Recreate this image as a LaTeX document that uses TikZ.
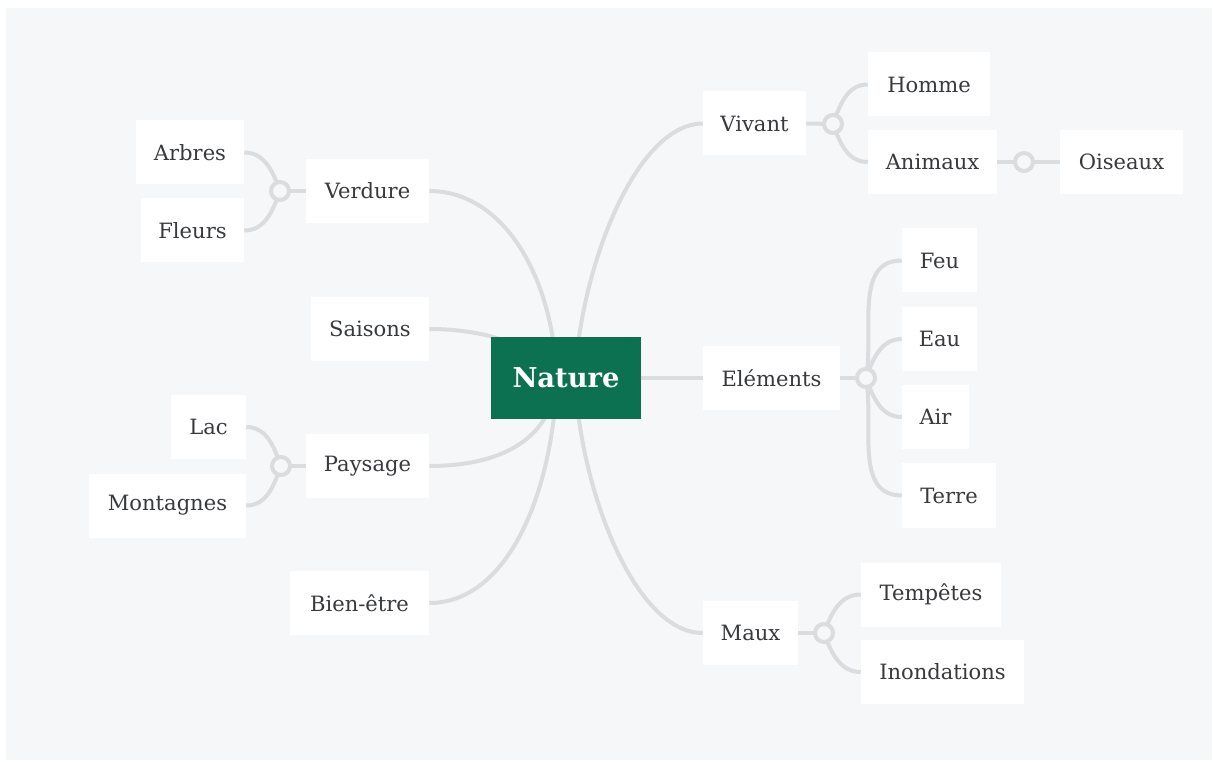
\documentclass[tikz,border=0pt]{standalone}
\usepackage{fontspec}
\setmainfont{DejaVu Serif}
\usetikzlibrary{backgrounds}
\definecolor{canvas}{RGB}{245,247,249}
\definecolor{wire}{RGB}{218,221,224}
\definecolor{ink}{RGB}{55,57,60}
\definecolor{forest}{RGB}{11,113,80}
\pgfdeclarelayer{paper}
\pgfsetlayers{paper,background,main}
\tikzset{
  bw/.style={minimum width=#1*0.75pt},
  leaf/.style={fill=white, text=ink, font=\fontsize{15.8pt}{18pt}\selectfont,
    minimum height=48pt, inner sep=0pt},
  root/.style={fill=forest, text=white, font=\fontsize{20.5pt}{24pt}\selectfont\bfseries,
    minimum width=112.5pt, minimum height=61.5pt, inner sep=0pt},
  link/.style={draw=wire, line width=3pt},
  hub/.style={circle, draw=wire, line width=3pt, fill=canvas, minimum size=13.5pt, inner sep=0pt}
}
\begin{document}
\begin{tikzpicture}[x=0.75pt, y=-0.75pt]
  % page and canvas
  \useasboundingbox (0,0) rectangle (1213,762);
  \begin{pgfonlayer}{paper}
    \fill[white] (0,0) rectangle (1213,762);
    \fill[canvas] (6,8) rectangle (1212,760);
  \end{pgfonlayer}

  % central topic
  \node[root] (nature) at (566,378) {Nature};

  % right-hand branches
  \node[leaf, bw=103] (vivant)   at (754.5,123.5) {Vivant};
  \node[leaf, bw=122] (homme)    at (929,84.5)    {Homme};
  \node[leaf, bw=129] (animaux)  at (932.5,162)   {Animaux};
  \node[leaf, bw=123] (oiseaux)  at (1121.5,162)  {Oiseaux};

  \node[leaf, bw=137] (elements) at (771.5,378)   {Eléments};
  \node[leaf, bw=75]  (feu)      at (939.5,260.5) {Feu};
  \node[leaf, bw=75]  (eau)      at (939.5,339)   {Eau};
  \node[leaf, bw=67]  (air)      at (935.5,417)   {Air};
  \node[leaf, bw=94]  (terre)    at (949,495.5)   {Terre};

  \node[leaf, bw=95]  (maux)     at (750.5,633)   {Maux};
  \node[leaf, bw=140] (tempetes) at (931,594.5)   {Tempêtes};
  \node[leaf, bw=163] (inond)    at (942.5,672)   {Inondations};

  % left-hand branches
  \node[leaf, bw=123] (verdure)  at (367.5,191)   {Verdure};
  \node[leaf, bw=108] (arbres)   at (190,152.5)   {Arbres};
  \node[leaf, bw=103] (fleurs)   at (192.5,230.5) {Fleurs};

  \node[leaf, bw=118] (saisons)  at (370,329)     {Saisons};

  \node[leaf, bw=123] (paysage)  at (367.5,466)   {Paysage};
  \node[leaf, bw=75]  (lac)      at (208.5,427)   {Lac};
  \node[leaf, bw=157] (montagnes) at (167.5,505.5) {Montagnes};

  \node[leaf, bw=139] (bienetre) at (359.5,603)   {Bien-être};

  % branch roots inside the central box
  \coordinate (nl) at (557,378);
  \coordinate (nr) at (575,378);

  % junction points
  \coordinate (jver) at (280,191);
  \coordinate (jpay) at (281,466);
  \coordinate (jviv) at (833,124);
  \coordinate (jani) at (1024,162);
  \coordinate (jele) at (866,378);
  \coordinate (jmau) at (824,633);

  % connectors, kept behind the boxes
  \begin{scope}[on background layer]
    \path[link] (verdure.east) .. controls (500,191) and (552,270) .. (nl);
    \path[link] (saisons.east) .. controls (470,329) and (530,338) .. (nl);
    \path[link] (paysage.east) .. controls (500,466) and (552,440) .. (nl);
    \path[link] (bienetre.east) .. controls (505,603) and (552,500) .. (nl);
    \path[link] (vivant.west) .. controls (635,124) and (580,270) .. (nr);
    \path[link] (maux.west) .. controls (635,633) and (580,490) .. (nr);
    \path[link] (nature.east) -- (elements.west);

    \path[link] (verdure.west) -- (jver);
    \path[link] (jver) to[out=110,in=0] (arbres.east);
    \path[link] (jver) to[out=-110,in=0] (fleurs.east);

    \path[link] (paysage.west) -- (jpay);
    \path[link] (jpay) to[out=110,in=0] (lac.east);
    \path[link] (jpay) to[out=-110,in=0] (montagnes.east);

    \path[link] (vivant.east) -- (jviv);
    \path[link] (jviv) to[out=70,in=180] (homme.west);
    \path[link] (jviv) to[out=-70,in=180] (animaux.west);

    \path[link] (animaux.east) -- (oiseaux.west);

    \path[link] (elements.east) -- (jele);
    \path[link] (jele) to[out=80,in=180] (feu.west);
    \path[link] (jele) to[out=70,in=180] (eau.west);
    \path[link] (jele) to[out=-70,in=180] (air.west);
    \path[link] (jele) to[out=-80,in=180] (terre.west);

    \path[link] (maux.east) -- (jmau);
    \path[link] (jmau) to[out=70,in=180] (tempetes.west);
    \path[link] (jmau) to[out=-70,in=180] (inond.west);
  \end{scope}

  % hollow junction hubs
  \foreach \j in {jver,jpay,jviv,jani,jele,jmau}
    \node[hub] at (\j) {};
\end{tikzpicture}
\end{document}
